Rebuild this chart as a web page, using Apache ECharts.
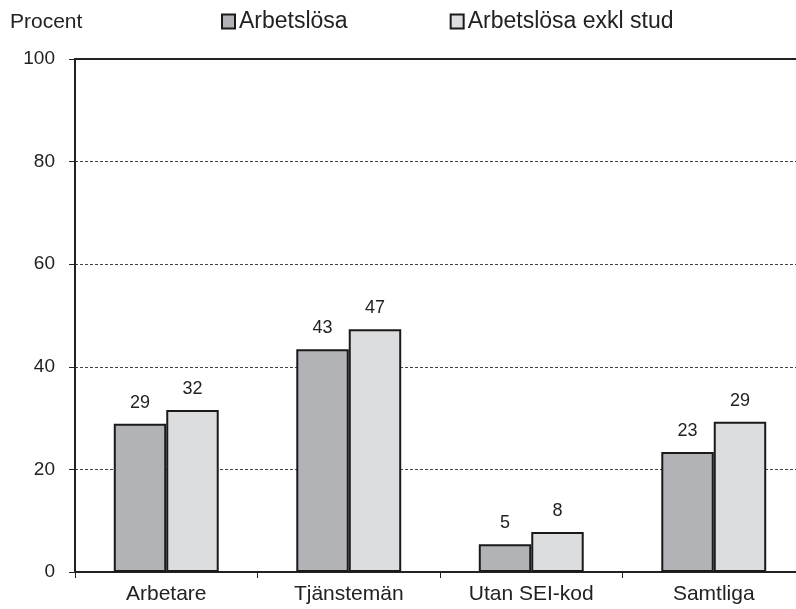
<!DOCTYPE html>
<html><head><meta charset="utf-8">
<script src="https://cdn.jsdelivr.net/npm/echarts@6/dist/echarts.min.js"></script>
<style>html,body{margin:0;padding:0;background:#fff}#c{width:796px;height:609px}</style>
</head><body><div id="c"></div>
<script>
const categories = ['Arbetare', 'Tjänstemän', 'Utan SEI-kod', 'Samtliga'];
const arbetslosa = [28.9, 43.4, 5.4, 23.4];
const arbetslosaExkl = [31.6, 47.3, 7.8, 29.3];
const seriesNames = ['Arbetslösa', 'Arbetslösa exkl stud'];
const yTicks = [0, 20, 40, 60, 80, 100];

const font = 'Liberation Sans, Arial, sans-serif';
const chart = echarts.init(document.getElementById('c'), null, {renderer: 'canvas'});
const labelCfg = {show: true, position: 'top', distance: 12, color: '#222', fontFamily: font, fontSize: 18,
  formatter: p => Math.round(p.value)};
chart.setOption({
  animation: false,
  backgroundColor: '#fff',
  title: {text: 'Procent', left: 10, top: 12, padding: 0, textStyle: {fontFamily: font, fontSize: 21, fontWeight: 'normal', color: '#222'}},
  legend: {left: 221, top: 10, padding: 0, itemWidth: 13, itemHeight: 14, itemGap: 102, icon: 'rect',
    textStyle: {fontFamily: font, fontSize: 23, color: '#222', padding: [0,0,0,-1]},
    data: seriesNames},
  grid: {left: 75, right: -9, top: 59, bottom: 37, containLabel: false, outerBoundsMode: 'none'},
  xAxis: [{type: 'category', data: categories,
    axisLine: {lineStyle: {color: '#222', width: 2}},
    axisTick: {show: true, length: 6, lineStyle: {color: '#222', width: 1}},
    axisLabel: {fontFamily: font, fontSize: 21, color: '#222', margin: 12},
    splitLine: {show: false}},
   {type: 'category', position: 'top', data: categories,
    axisLine: {show: true, lineStyle: {color: '#222', width: 2}},
    axisTick: {show: false}, axisLabel: {show: false}}],
  yAxis: {type: 'value', min: yTicks[0], max: yTicks[yTicks.length-1], interval: 20,
    axisLine: {show: true, lineStyle: {color: '#222', width: 2}},
    axisTick: {show: true, length: 6, lineStyle: {color: '#222'}},
    axisLabel: {fontFamily: font, fontSize: 19, color: '#222', margin: 20},
    splitLine: {show: true, lineStyle: {color: '#444', type: [3, 2], width: 1}}},
  series: [
    {name: seriesNames[0], type: 'bar', data: arbetslosa, barGap: '0%', barCategoryGap: '42.5%',
     itemStyle: {color: '#b2b3b6', borderColor: '#1a1a1a', borderWidth: 2}, label: labelCfg},
    {name: seriesNames[1], type: 'bar', data: arbetslosaExkl, barGap: '0%', barCategoryGap: '42.5%',
     itemStyle: {color: '#dcdddf', borderColor: '#1a1a1a', borderWidth: 2}, label: labelCfg}
  ]
});
</script></body></html>
